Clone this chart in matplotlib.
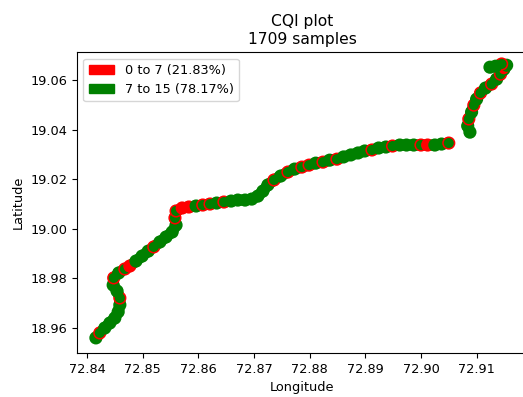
import matplotlib
matplotlib.use("Agg")
import matplotlib.pyplot as plt
import matplotlib.patches as mpatches

# Drive-test track (lon, lat, CQI class)
LON = [
    72.8416, 72.8423, 72.8432, 72.8441, 72.8450, 72.8456, 72.8459, 72.8459,
    72.8454, 72.8447, 72.8448, 72.8457, 72.8468, 72.8477, 72.8488, 72.8499,
    72.8510, 72.8520, 72.8531, 72.8542, 72.8553, 72.8560, 72.8558, 72.8560,
    72.8571, 72.8583, 72.8596, 72.8608, 72.8621, 72.8633, 72.8646, 72.8659,
    72.8671, 72.8684, 72.8696, 72.8707, 72.8716, 72.8725, 72.8736, 72.8748,
    72.8761, 72.8773, 72.8786, 72.8799, 72.8811, 72.8824, 72.8836, 72.8849,
    72.8861, 72.8874, 72.8887, 72.8899, 72.8912, 72.8924, 72.8937, 72.8949,
    72.8962, 72.8974, 72.8987, 72.9000, 72.9012, 72.9025, 72.9037, 72.9050,
    72.9088, 72.9084, 72.9086, 72.9091, 72.9095, 72.9100, 72.9107, 72.9116,
    72.9127, 72.9136, 72.9143, 72.9149, 72.9154, 72.9145, 72.9134, 72.9124,
]
LAT = [
    18.9560, 18.9580, 18.9600, 18.9620, 18.9640, 18.9665, 18.9693, 18.9721,
    18.9749, 18.9773, 18.9802, 18.9822, 18.9838, 18.9850, 18.9870, 18.9890,
    18.9910, 18.9927, 18.9947, 18.9967, 18.9987, 19.0015, 19.0044, 19.0072,
    19.0084, 19.0088, 19.0092, 19.0096, 19.0100, 19.0104, 19.0108, 19.0112,
    19.0116, 19.0116, 19.0120, 19.0132, 19.0152, 19.0177, 19.0197, 19.0213,
    19.0229, 19.0241, 19.0249, 19.0257, 19.0265, 19.0269, 19.0277, 19.0281,
    19.0290, 19.0298, 19.0306, 19.0314, 19.0318, 19.0326, 19.0330, 19.0334,
    19.0338, 19.0338, 19.0338, 19.0338, 19.0338, 19.0338, 19.0342, 19.0346,
    19.0390, 19.0415, 19.0443, 19.0471, 19.0499, 19.0523, 19.0548, 19.0568,
    19.0584, 19.0604, 19.0624, 19.0644, 19.0660, 19.0665, 19.0656, 19.0652,
]
# 0 -> CQI 0 to 7, 1 -> CQI 7 to 15
CQI_CLASS = [
    1, 0, 1, 1, 1, 1, 1, 0,
    1, 1, 0, 1, 0, 0, 1, 1,
    1, 0, 1, 1, 1, 1, 0, 0,
    0, 0, 1, 0, 0, 1, 0, 1,
    1, 1, 1, 1, 1, 1, 0, 1,
    0, 1, 0, 0, 1, 0, 1, 0,
    1, 1, 1, 1, 0, 1, 1, 0,
    1, 1, 1, 0, 0, 1, 1, 0,
    1, 1, 0, 1, 0, 1, 0, 1,
    0, 1, 0, 1, 1, 0, 1, 1,
]
# a few stretches where the low-CQI samples pile up into solid red
SOLID_RED = [13, 24, 25, 60, 75]
CLASS_LABELS = ["0 to 7 (21.83%)", "7 to 15 (78.17%)"]
CLASS_COLORS = ["red", "green"]
N_SAMPLES = 1709

FONT = 9.3

fig = plt.figure(figsize=(5.23, 3.97), dpi=100)
ax = fig.add_axes([0.1472, 0.1108, 0.862, 0.758])

# thick track underneath so the markers read as a continuous band
for seg in (slice(0, 64), slice(64, None)):
    ax.plot(LON[seg], LAT[seg], color="green", linewidth=8,
            solid_capstyle="round", solid_joinstyle="round", zorder=1)

face = ["red" if i in SOLID_RED else "green" for i in range(len(LON))]
edge = [CLASS_COLORS[k] for k in CQI_CLASS]
ax.scatter(LON, LAT, s=70, zorder=2, facecolors=face, edgecolors=edge,
           linewidths=1.1)

ax.set_xlim(72.8382, 72.9192)
ax.set_ylim(18.9499, 19.0713)
ax.set_xticks([72.84, 72.85, 72.86, 72.87, 72.88, 72.89, 72.90, 72.91])
ax.set_yticks([18.96, 18.98, 19.00, 19.02, 19.04, 19.06])
ax.tick_params(axis="both", labelsize=FONT)

ax.set_title(f"CQI plot\n{N_SAMPLES} samples", fontsize=11.2)
ax.set_xlabel("Longitude", fontsize=FONT)
ax.set_ylabel("Latitude", fontsize=FONT)

handles = [mpatches.Patch(color=c, label=l) for c, l in zip(CLASS_COLORS, CLASS_LABELS)]
ax.legend(handles=handles, loc="upper left", fontsize=FONT)

fig.savefig("out.png", dpi=100)
